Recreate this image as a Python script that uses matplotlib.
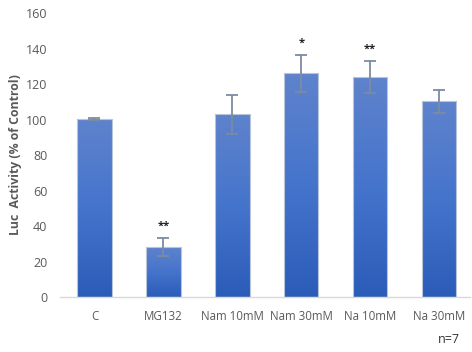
import numpy as np
import matplotlib
matplotlib.use("Agg")
import matplotlib.pyplot as plt
from matplotlib.colors import LinearSegmentedColormap

# data
categories = ["C", "MG132", "Nam 10mM", "Nam 30mM", "Na 10mM", "Na 30mM"]
activity = [100.3, 28.3, 103.0, 126.0, 123.8, 110.2]
errors = [0.3, 5.0, 11.0, 10.5, 9.0, 6.5]
stars = ["", "**", "", "*", "**", ""]

plt.rcParams['font.family'] = ['Open Sans', 'DejaVu Sans']

fig = plt.figure(figsize=(4.72, 3.52), dpi=100)
ax = fig.add_axes([0.127, 0.156, 0.869, 0.807])

x = np.arange(len(categories))
bars = ax.bar(x, activity, width=0.5, color="none", edgecolor="#b8c4d8", linewidth=0.8, zorder=3)

# vertical gradient fill clipped to each bar
cmap = LinearSegmentedColormap.from_list("bluegrad", ["#2b5cb8", "#4574cc", "#5f83cc"])
grad = np.linspace(0, 1, 256).reshape(-1, 1)
for bar in bars:
    x0, w, h = bar.get_x(), bar.get_width(), bar.get_height()
    im = ax.imshow(grad, cmap=cmap, aspect="auto", origin="lower",
                   extent=[x0, x0 + w, 0, h], zorder=2)
    im.set_clip_path(bar)

ax.errorbar(x, activity, yerr=errors, fmt="none", ecolor="#7d8ba0",
            elinewidth=1.3, capsize=4, capthick=1.3, zorder=4)

for xi, val, err, s in zip(x, activity, errors, stars):
    if s:
        ax.text(xi, val + err + 3.5, s, ha="center", va="bottom", fontsize=8,
                color="#222222", fontweight="bold")

ax.set_xlim(-0.5, 5.45)
ax.set_ylim(0, 160)
ax.set_yticks(np.arange(0, 161, 20))
ax.set_xticks(x)
ax.set_xticklabels(categories)
ax.tick_params(axis="y", length=0, labelsize=9, colors="#595959", pad=9)
ax.tick_params(axis="x", length=0, labelsize=8.3, colors="#595959", pad=9)

for side in ["top", "right", "left"]:
    ax.spines[side].set_visible(False)
ax.spines["bottom"].set_color("#d9d9d9")
ax.spines["bottom"].set_linewidth(1.0)

ax.set_ylabel("Luc  Activity (% of Control)", fontsize=8.8, fontweight="bold",
              color="#595959", labelpad=3)

fig.text(0.975, 0.035, "n=7", ha="right", va="center", fontsize=9, color="#333333")

fig.savefig("out.png", dpi=100)
